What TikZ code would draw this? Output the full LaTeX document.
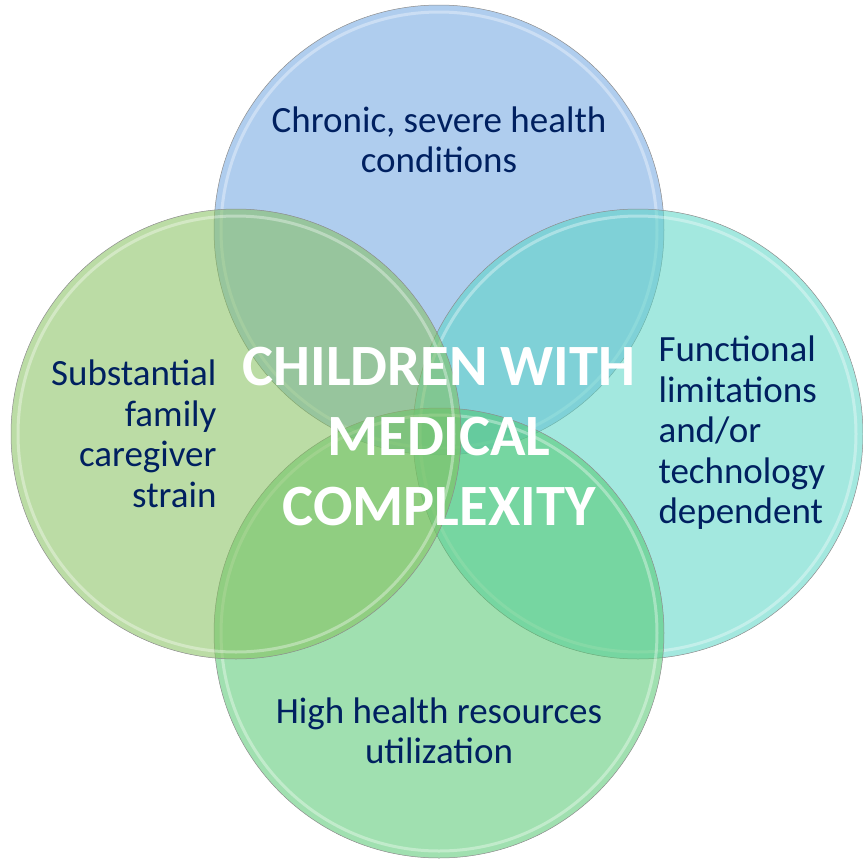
\documentclass[tikz,border=0pt]{standalone}
\usepackage{fontspec}
\setmainfont{Carlito}
\definecolor{navytext}{RGB}{0,32,96}
\definecolor{topblue}{RGB}{110,164,224}
\definecolor{leftgreen}{RGB}{131,191,91}
\definecolor{rightteal}{RGB}{88,213,197}
\definecolor{bottomgreen}{RGB}{82,199,111}
\def\bubble[#1](#2){%
  \fill[#1, fill opacity=0.55] (#2) circle (225pt);
  \draw[white, opacity=0.35, line width=3pt] (#2) circle (218pt);
  \draw[black!45, line width=0.5pt] (#2) circle (225pt);}

\begin{document}
\begin{tikzpicture}[x=1pt, y=-1pt,
    label/.style={text=navytext, font=\fontsize{37}{40.5}\selectfont},
    title/.style={text=white, align=center, font=\bfseries\fontsize{58.5}{70}\selectfont}]
    %%%%% START %%%%%
    
    \useasboundingbox (0,0) rectangle (863,860);
    
    \bubble[topblue](439,230)
    \bubble[rightteal](638,434)
    \bubble[bottomgreen](439,633)
    \bubble[leftgreen](236,434)
    
    \node[label, align=center] (chronic) at (439,140) {Chronic, severe health\\conditions};
    \node[label, align=right, anchor=east] (strain) at (220,434) {Substantial\\family\\caregiver\\strain};
    \node[label, align=left, anchor=west] (functional) at (655,433) {Functional\\limitations\\and/or\\technology\\dependent};
    \node[label, align=center] (resources) at (439,731) {High health resources\\utilization};
    
    \node[title] (cmc) at (439,437) {CHILDREN WITH\\MEDICAL\\COMPLEXITY};
    
    %%%%% END %%%%%
\end{tikzpicture}
\end{document}
